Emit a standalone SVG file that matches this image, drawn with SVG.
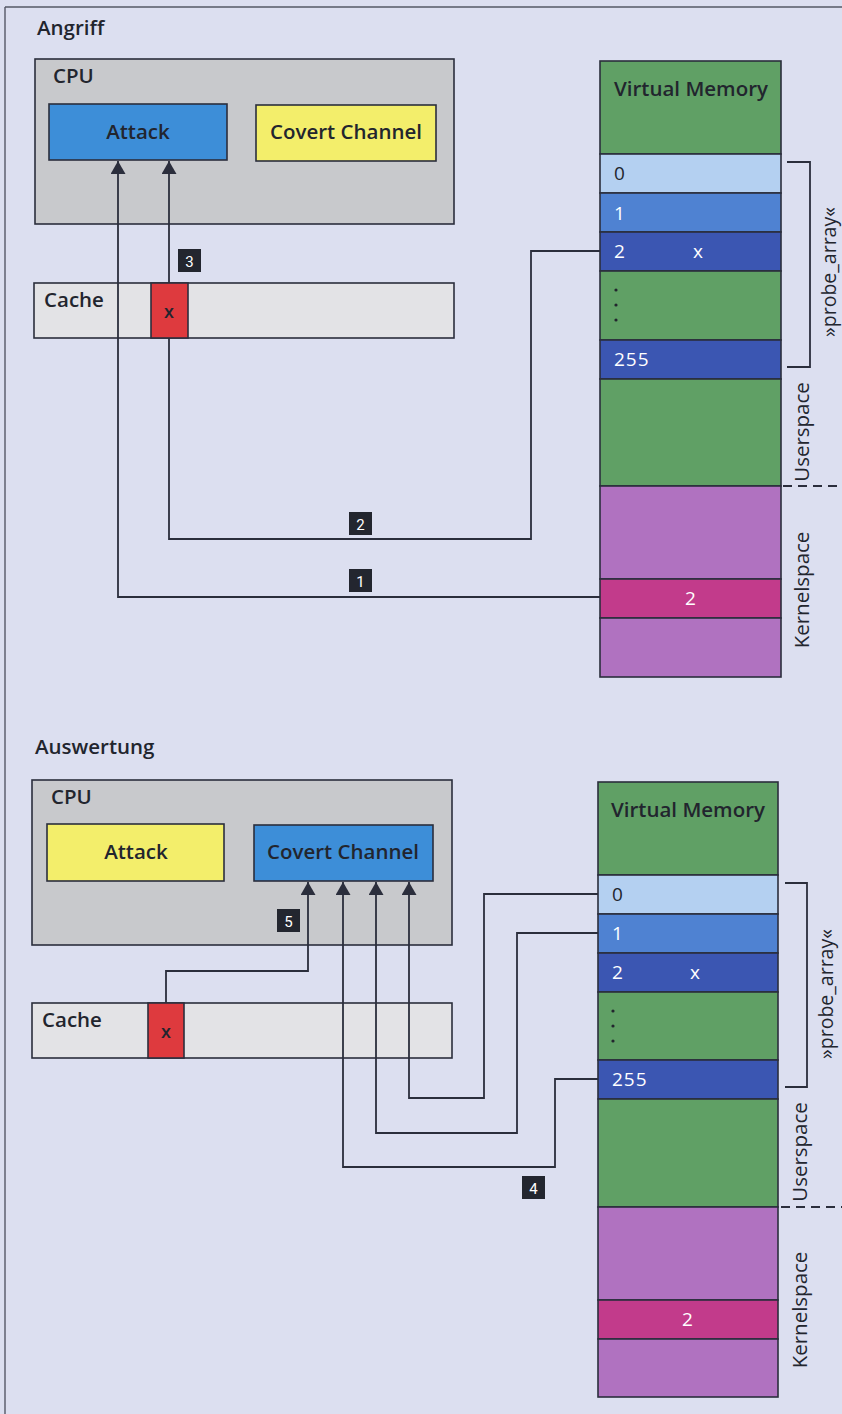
<svg xmlns="http://www.w3.org/2000/svg" width="842" height="1414" viewBox="0 0 842 1414">
<defs>
<style>
.bg{fill:#dcdff0}
.st{stroke:#2b2e3c;stroke-width:1.6}
.cpu{fill:#c8c9cc}
.cache{fill:#e3e3e6}
.blue{fill:#3d8ed8}
.yellow{fill:#f3ee6b}
.red{fill:#de3a3e}
.green{fill:#60a065}
.r0{fill:#b4d0f1}
.r1{fill:#4f82d2}
.r2{fill:#3b56b2}
.purple{fill:#b072c0}
.mag{fill:#c23b8b}
.t{font-family:"Open Sans","DejaVu Sans",sans-serif;font-weight:600;fill:#22252e}
.h{font-size:20.5px}
.box{font-size:20.5px;text-anchor:middle}
.xx{font-size:18px;text-anchor:middle}
.row{font-family:"Open Sans","DejaVu Sans",sans-serif;font-size:19px;letter-spacing:1px;fill:#ffffff}
.dk{fill:#22252e}
.side{font-family:"Open Sans","DejaVu Sans",sans-serif;font-size:20.5px;fill:#22252e;text-anchor:middle}
.pa{font-size:19.5px}
.num{fill:#23262f}
.numt{font-family:"Roboto","DejaVu Sans",sans-serif;font-size:15px;fill:#ffffff;text-anchor:middle}
.conn{fill:none;stroke:#2b2e3c;stroke-width:1.8}
.dash{fill:none;stroke:#2b2e3c;stroke-width:1.8;stroke-dasharray:9 6}
</style>
<marker id="ah" markerUnits="userSpaceOnUse" markerWidth="13" markerHeight="15" viewBox="0 0 13 15" refX="13" refY="7.5" orient="auto">
<path d="M0,0 L13,7.5 L0,15 Z" fill="#2b2e3c"/>
</marker>
</defs>
<rect class="bg" x="0" y="0" width="842" height="1414"/>
<line x1="5" y1="7" x2="842" y2="7" stroke="#555866" stroke-width="1.4"/>
<line x1="5" y1="7" x2="5" y2="1414" stroke="#555866" stroke-width="1.4"/>

<!-- ===== Angriff ===== -->
<text class="t h" x="37" y="35">Angriff</text>
<g id="cpu1">
<rect class="cpu st" x="35" y="59" width="419" height="165"/>
<text class="t h" x="53" y="83">CPU</text>
</g>
<g id="attack1">
<rect class="blue st" x="49" y="104" width="178" height="56"/>
<text class="t box" x="138" y="138.5">Attack</text>
</g>
<g id="covert1">
<rect class="yellow st" x="256" y="105" width="180" height="56"/>
<text class="t box" x="346" y="139">Covert Channel</text>
</g>
<g id="cache1">
<rect class="cache st" x="34" y="283" width="420" height="55"/>
<text class="t h" x="44" y="307">Cache</text>
</g>
<g id="cachex1">
<rect class="red st" x="151" y="283" width="37" height="55"/>
<text class="t xx" x="169" y="318">x</text>
</g>

<g id="vm1">
<rect class="green st" x="600" y="61" width="181" height="93"/>
<text class="t box" x="691" y="96">Virtual Memory</text>
<rect class="r0 st" x="600" y="154" width="181" height="39"/>
<text class="row dk" x="614" y="180">0</text>
<rect class="r1 st" x="600" y="193" width="181" height="39"/>
<text class="row" x="614" y="220">1</text>
<rect class="r2 st" x="600" y="232" width="181" height="39"/>
<text class="row" x="614" y="258">2</text>
<text class="row" x="693" y="258">x</text>
<rect class="green st" x="600" y="271" width="181" height="69"/>
<circle cx="616" cy="290" r="1.6" fill="#22252e"/>
<circle cx="616" cy="305" r="1.6" fill="#22252e"/>
<circle cx="616" cy="320" r="1.6" fill="#22252e"/>
<rect class="r2 st" x="600" y="340" width="181" height="39"/>
<text class="row" x="614" y="366">255</text>
<rect class="green st" x="600" y="379" width="181" height="107"/>
<rect class="purple st" x="600" y="486" width="181" height="93"/>
<rect class="mag st" x="600" y="579" width="181" height="39"/>
<text class="row" x="691" y="605" text-anchor="middle">2</text>
<rect class="purple st" x="600" y="618" width="181" height="59"/>
</g>
<g id="labels1">
<path class="conn" d="M787,162 H810 V367 H787"/>
<text class="side pa" transform="translate(828,272) rotate(-90)" dominant-baseline="central">»probe_array«</text>
<text class="side" transform="translate(801,432) rotate(-90)" dominant-baseline="central">Userspace</text>
<text class="side" transform="translate(801,590) rotate(-90)" dominant-baseline="central">Kernelspace</text>
<line class="dash" x1="783" y1="486" x2="842" y2="486"/>
</g>

<!-- ===== Auswertung ===== -->
<text class="t h" x="35" y="754">Auswertung</text>
<g id="cpu2">
<rect class="cpu st" x="32" y="780" width="420" height="165"/>
<text class="t h" x="51" y="804">CPU</text>
</g>
<g id="attack2">
<rect class="yellow st" x="47" y="824" width="177" height="57"/>
<text class="t box" x="136" y="859">Attack</text>
</g>
<g id="covert2">
<rect class="blue st" x="254" y="825" width="179" height="56"/>
<text class="t box" x="343" y="859">Covert Channel</text>
</g>
<g id="cache2">
<rect class="cache st" x="32" y="1003" width="420" height="55"/>
<text class="t h" x="42" y="1027">Cache</text>
</g>
<g id="cachex2">
<rect class="red st" x="148" y="1003" width="36" height="55"/>
<text class="t xx" x="166" y="1038">x</text>
</g>

<g id="vm2">
<rect class="green st" x="598" y="782" width="180" height="93"/>
<text class="t box" x="688" y="817">Virtual Memory</text>
<rect class="r0 st" x="598" y="875" width="180" height="39"/>
<text class="row dk" x="612" y="901">0</text>
<rect class="r1 st" x="598" y="914" width="180" height="39"/>
<text class="row" x="612" y="940">1</text>
<rect class="r2 st" x="598" y="953" width="180" height="39"/>
<text class="row" x="612" y="979">2</text>
<text class="row" x="690" y="979">x</text>
<rect class="green st" x="598" y="992" width="180" height="68"/>
<circle cx="613" cy="1011" r="1.6" fill="#22252e"/>
<circle cx="613" cy="1026" r="1.6" fill="#22252e"/>
<circle cx="613" cy="1041" r="1.6" fill="#22252e"/>
<rect class="r2 st" x="598" y="1060" width="180" height="39"/>
<text class="row" x="612" y="1086">255</text>
<rect class="green st" x="598" y="1099" width="180" height="108"/>
<rect class="purple st" x="598" y="1207" width="180" height="93"/>
<rect class="mag st" x="598" y="1300" width="180" height="39"/>
<text class="row" x="688" y="1326" text-anchor="middle">2</text>
<rect class="purple st" x="598" y="1339" width="180" height="58"/>
</g>
<g id="labels2">
<path class="conn" d="M785,883 H807 V1087 H785"/>
<text class="side pa" transform="translate(825,994) rotate(-90)" dominant-baseline="central">»probe_array«</text>
<text class="side" transform="translate(799,1152) rotate(-90)" dominant-baseline="central">Userspace</text>
<text class="side" transform="translate(799,1310) rotate(-90)" dominant-baseline="central">Kernelspace</text>
<line class="dash" x1="781" y1="1207" x2="842" y2="1207"/>
</g>

<!-- ===== Connectors ===== -->
<g id="connectors">
<path class="conn" d="M600,597 H118 V161" marker-end="url(#ah)"/>
<path class="conn" d="M600,251 H531 V539 H169 V338"/>
<path class="conn" d="M169,283 V161" marker-end="url(#ah)"/>
<path class="conn" d="M598,894 H484 V1098 H409 V882" marker-end="url(#ah)"/>
<path class="conn" d="M598,933 H517 V1133 H376 V882" marker-end="url(#ah)"/>
<path class="conn" d="M598,1079 H555 V1167 H343 V882" marker-end="url(#ah)"/>
<path class="conn" d="M166,1003 V971 H308 V882" marker-end="url(#ah)"/>
</g>

<g id="step-markers">
<rect class="num" x="349" y="569" width="23" height="23"/>
<text class="numt" x="360.5" y="586.5">1</text>
<rect class="num" x="349" y="512" width="23" height="23"/>
<text class="numt" x="360.5" y="529.5">2</text>
<rect class="num" x="178" y="249" width="23" height="23"/>
<text class="numt" x="189.5" y="266.5">3</text>
<rect class="num" x="522" y="1176" width="23" height="23"/>
<text class="numt" x="533.5" y="1193.5">4</text>
<rect class="num" x="277" y="909" width="23" height="23"/>
<text class="numt" x="288.5" y="926.5">5</text>
</g>
</svg>
